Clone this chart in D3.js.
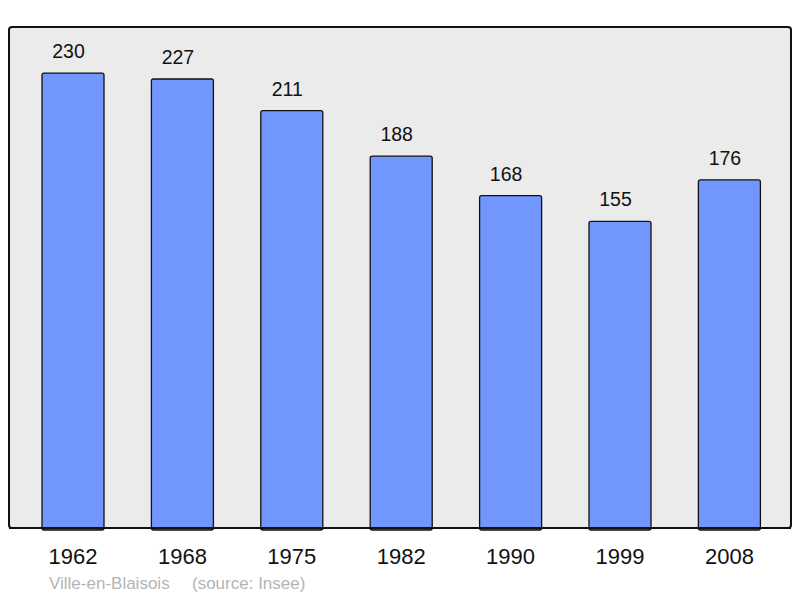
<!DOCTYPE html>
<html><head><meta charset="utf-8">
<script src="https://cdn.jsdelivr.net/npm/d3@7"></script>
<style>html,body{margin:0;padding:0;background:#fff;}svg{display:block;}</style>
</head><body>
<svg id="chart" width="800" height="598"></svg>
<script>
const years = ["1962","1968","1975","1982","1990","1999","2008"];
const population = [230,227,211,188,168,155,176];
const placeName = "Ville-en-Blaisois";
const sourceText = "(source: Insee)";

const svg = d3.select("#chart");
const panel = {x0: 9, y0: 27, x1: 791, y1: 528};

const x = d3.scaleBand().domain(years).range([18.3, 784.1]).paddingInner(0.433).paddingOuter(0.2165);
const y = d3.scaleLinear().domain([0, 253.3]).range([panel.y1, panel.y0]);

svg.append("rect")
  .attr("x", panel.x0).attr("y", panel.y0)
  .attr("width", panel.x1 - panel.x0).attr("height", panel.y1 - panel.y0)
  .attr("rx", 3)
  .attr("fill", "#ebebeb").attr("stroke", "#111").attr("stroke-width", 2);

const bw = 62;
svg.selectAll("rect.bar").data(years).enter().append("rect")
  .attr("class", "bar")
  .attr("x", d => x(d) + x.bandwidth()/2 - bw/2)
  .attr("y", (d,i) => y(population[i]))
  .attr("width", bw)
  .attr("height", (d,i) => y(0) - y(population[i]) + 2)
  .attr("rx", 2)
  .attr("fill", "#7197ff").attr("stroke", "#111").attr("stroke-width", 1.3);

svg.append("line")
  .attr("x1", panel.x0).attr("x2", panel.x1)
  .attr("y1", panel.y1).attr("y2", panel.y1)
  .attr("stroke", "#111").attr("stroke-width", 2);

svg.selectAll("text.val").data(years).enter().append("text")
  .attr("class", "val")
  .attr("x", d => x(d) + x.bandwidth()/2 - 4.5)
  .attr("y", (d,i) => y(population[i]) - 15)
  .attr("text-anchor", "middle")
  .attr("font-family", "Liberation Sans, Arial, sans-serif")
  .attr("font-size", 19.5).attr("fill", "#111")
  .text((d,i) => population[i]);

svg.selectAll("text.year").data(years).enter().append("text")
  .attr("class", "year")
  .attr("x", d => x(d) + x.bandwidth()/2)
  .attr("y", 564)
  .attr("text-anchor", "middle")
  .attr("font-family", "Liberation Sans, Arial, sans-serif")
  .attr("font-size", 22).attr("fill", "#111")
  .text(d => d);

svg.append("text")
  .attr("x", 49).attr("y", 589)
  .attr("font-family", "Liberation Sans, Arial, sans-serif")
  .attr("font-size", 17).attr("fill", "#b4b4b4")
  .text(placeName);
svg.append("text")
  .attr("x", 192).attr("y", 589)
  .attr("font-family", "Liberation Sans, Arial, sans-serif")
  .attr("font-size", 17).attr("fill", "#b4b4b4")
  .text(sourceText);
</script>
</body></html>
